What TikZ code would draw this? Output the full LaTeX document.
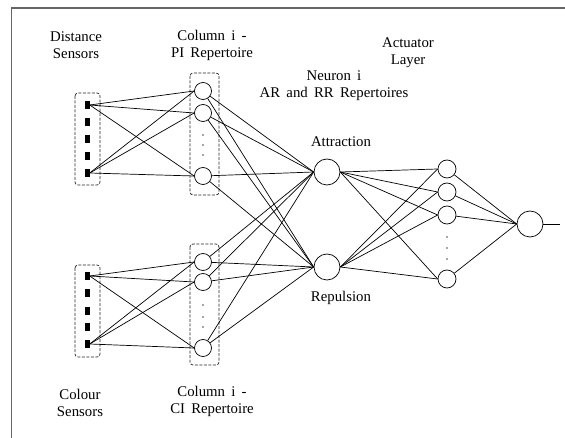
\documentclass[tikz,border=0pt]{standalone}
\usepackage{fontspec}
\setmainfont{Liberation Serif}
\newcommand\mylblfont{\fontsize{14.8}{17}\selectfont\spaceskip=0.42em plus 0.1em\relax}
\begin{document}
\begin{tikzpicture}[x=1pt,y=-1pt,
  conn/.style={line width=0.7pt},
  neuron/.style={circle,draw,line width=0.7pt,inner sep=0pt},
  grp/.style={draw,dash pattern=on 3pt off 1.5pt,rounded corners=3pt,line width=0.7pt,black!85},
  sens/.style={fill=black,minimum width=5pt,minimum height=8pt,inner sep=0pt},
  pdot/.style={circle,fill=black!70,inner sep=0pt,minimum size=1.6pt},
  lbl/.style={font=\mylblfont,align=center,inner sep=0pt}]
\useasboundingbox (0,0) rectangle (565,438);
% frame
\draw[black!60,line width=1.6pt] (11.5,438) -- (11.5,8) -- (565,8);
% group boxes
\draw[grp] (75,93) rectangle (100,185);
\draw[grp] (190,73) rectangle (219,195);
\draw[grp] (75,265) rectangle (100,357);
\draw[grp] (190,244) rectangle (219,365);
% distance sensors
\foreach \n/\y in {1/105,2/122,3/139,4/156,5/173}{\node[sens] (ds\n) at (87,\y) {};}
% colour sensors
\foreach \n/\y in {1/276,2/293,3/311,4/327,5/344}{\node[sens] (cs\n) at (87,\y) {};}
% PI column
\node[neuron,minimum size=17pt] (pi1) at (203,91) {};
\node[neuron,minimum size=17pt] (pi2) at (203,113) {};
\node[neuron,minimum size=17pt] (pi3) at (203,176) {};
\foreach \n/\y in {1/135,2/145,3/155}{\node[pdot] (pid\n) at (203,\y) {};}
% CI column
\node[neuron,minimum size=17pt] (ci1) at (203,262) {};
\node[neuron,minimum size=17pt] (ci2) at (203,282) {};
\node[neuron,minimum size=17pt] (ci3) at (203,348) {};
\foreach \n/\y in {1/305,2/317,3/327}{\node[pdot] (cid\n) at (203,\y) {};}
% AR / RR
\node[neuron,minimum size=26pt] (att) at (327,172) {};
\node[neuron,minimum size=26pt] (rep) at (327,267) {};
% actuators
\node[neuron,minimum size=18pt] (a1) at (447,169) {};
\node[neuron,minimum size=18pt] (a2) at (447,192) {};
\node[neuron,minimum size=18pt] (a3) at (447,215) {};
\node[neuron,minimum size=18pt] (a4) at (447,279) {};
\foreach \n/\y in {1/237,2/248,3/259}{\node[pdot] (ad\n) at (447,\y) {};}
% output
\node[neuron,minimum size=26pt] (out) at (530,224) {};
\coordinate (outend) at (560,224);
% connections sensors -> columns
\foreach \s in {ds1,ds5}{\foreach \t in {pi1,pi2,pi3}{\draw[conn] (\s.east) -- (\t.west);}}
\foreach \s in {cs1,cs5}{\foreach \t in {ci1,ci2,ci3}{\draw[conn] (\s.east) -- (\t.west);}}
% columns -> AR/RR
\foreach \s in {pi1,pi2,pi3,ci1,ci2,ci3}{\foreach \t in {att,rep}{\draw[conn] (\s) -- (\t.west);}}
% AR/RR -> actuators
\foreach \s in {att,rep}{\foreach \t in {a1,a2,a3,a4}{\draw[conn] (\s.east) -- (\t.west);}}
% actuators -> output
\foreach \s in {a1,a2,a3,a4}{\draw[conn] (\s) -- (out.west);}
\draw[conn] (out.east) -- (outend);
% labels
\node[lbl] (tDist) at (76,45) {Distance\\Sensors};
\node[lbl] (tPI) at (212,45) {Column i -\\PI Repertoire};
\node[lbl] (tNeu) at (334,86) {Neuron i\\AR and RR Repertoires};
\node[lbl] (tAct) at (408,53) {Actuator\\Layer};
\node[lbl] (tAtt) at (341,142) {Attraction};
\node[lbl] (tRep) at (341,298) {Repulsion};
\node[lbl] (tCol) at (80,403) {Colour\\Sensors};
\node[lbl] (tCI) at (212,401) {Column i -\\CI Repertoire};
\end{tikzpicture}
\end{document}
